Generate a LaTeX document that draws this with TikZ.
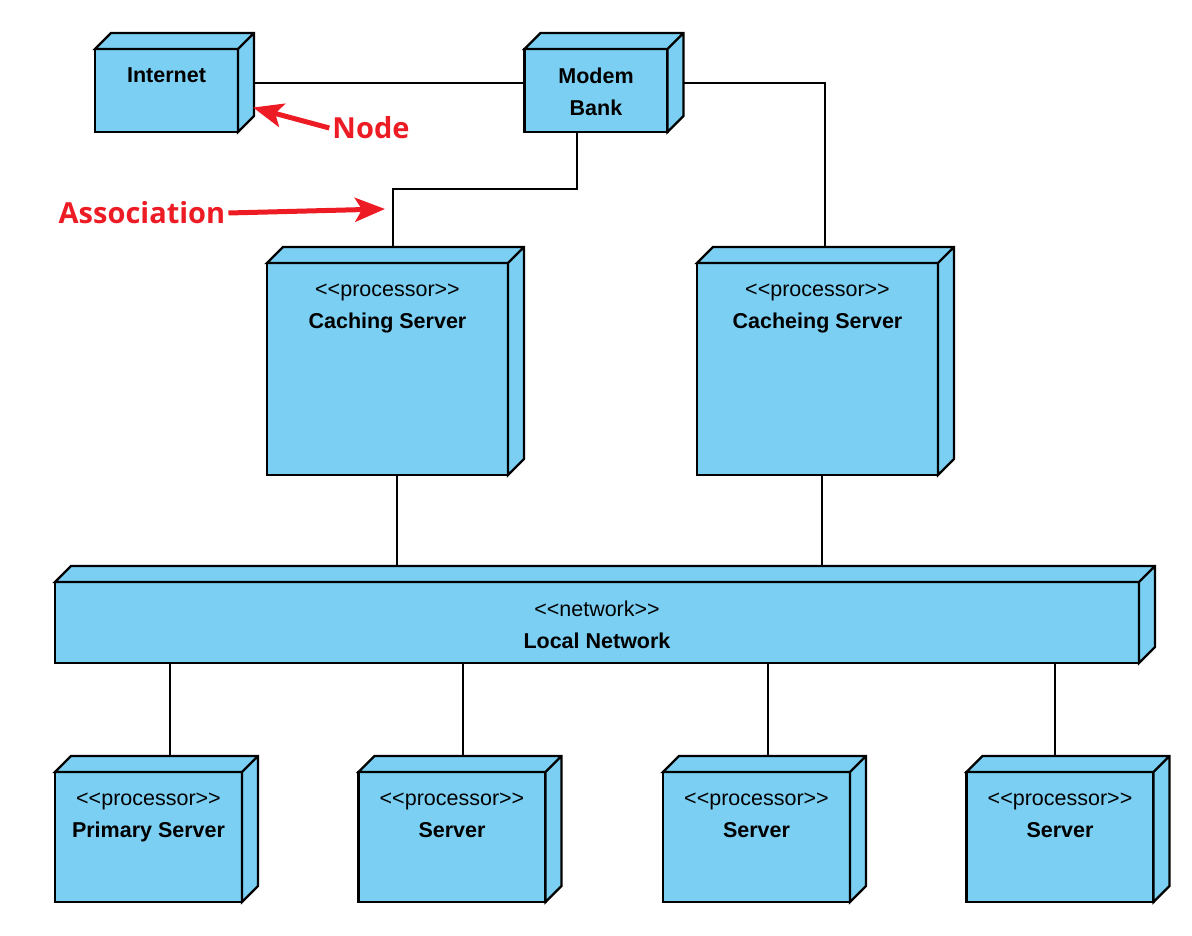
\documentclass[tikz,border=0pt]{standalone}
\usepackage{fontspec}
\setmainfont{Liberation Sans}
\newfontfamily\notefont{Open Sans}
\usetikzlibrary{arrows.meta,calc}
\definecolor{nodeblue}{RGB}{122,207,243}
\definecolor{notered}{RGB}{237,28,36}
\newcommand{\stype}[1]{\vphantom{\textbf{I}}<\kern0pt<#1>\kern0pt>}

\begin{document}
\begin{tikzpicture}[
  x=1pt, y=1pt,
  box/.style 2 args={draw, fill=nodeblue, line width=2.2pt, outer sep=0pt, inner sep=0pt, minimum width=#1, minimum height=#2},
  face/.style={draw, fill=nodeblue, line width=2.2pt, line join=miter},
  title/.style={anchor=north, align=center, inner sep=0pt, yshift=-19pt, font=\fontsize{21.5}{31.5}\selectfont},
  link/.style={draw, line width=2pt},
  note/.style={text=notered, font=\notefont\bfseries\fontsize{29}{34}\selectfont, inner sep=3pt},
  pointer/.style={-{Stealth[length=30pt,width=24pt,inset=7pt]}, draw=notered, line width=5pt},
]
\useasboundingbox (0,0) rectangle (1192,-936);

\node[box={143pt}{83pt}, label={[title]north:\textbf{Internet}}] (inet) at (166.5,-90.5) {};
\node[box={143pt}{83pt}, label={[title]north:{\textbf{Modem}\\\textbf{Bank}}}] (modem) at (596,-90.5) {};
\node[box={241pt}{212pt}, label={[title]north:{\stype{processor}\\\textbf{Caching Server}}}] (cache) at (387.5,-369) {};
\node[box={241pt}{212pt}, label={[title]north:{\stype{processor}\\\textbf{Cacheing Server}}}] (cache2) at (817.5,-369) {};
\node[box={1084pt}{81pt}, label={[title]north:{\stype{network}\\\textbf{Local Network}}}] (lan) at (597,-622.5) {};
\node[box={187pt}{130pt}, label={[title]north:{\stype{processor}\\\textbf{Primary Server}}}] (prim) at (148.5,-837) {};
\node[box={187pt}{130pt}, label={[title]north:{\stype{processor}\\\textbf{Server}}}] (srvA) at (452,-837) {};
\node[box={187pt}{130pt}, label={[title]north:{\stype{processor}\\\textbf{Server}}}] (srvB) at (756.5,-837) {};
\node[box={187pt}{130pt}, label={[title]north:{\stype{processor}\\\textbf{Server}}}] (srvC) at (1060,-837) {};

\foreach \n in {inet,modem,cache,cache2,lan,prim,srvA,srvB,srvC}
  \path[face] (\n.north west) -- ++(16,16) -- ([shift={(16,16)}]\n.north east)
    -- ([shift={(16,16)}]\n.south east) -- (\n.south east) -- (\n.north east) -- cycle
    (\n.north east) -- ++(16,16);

\draw[link] ([shift={(16,7.5)}]inet.east) -- ([yshift=7.5]modem.west);
\draw[link] ([shift={(16,7.5)}]modem.east) -| ([shift={(7.5,16)}]cache2.north);
\coordinate (cachetop) at ([shift={(5.5,16)}]cache.north);
\coordinate (bend) at ($([xshift=-19]modem.south)!0.5!(cachetop)$);
\draw[link] ([xshift=-19]modem.south) |- (bend) -| (cachetop);

\coordinate (lantop) at ([yshift=16]lan.north);
\foreach \n/\dx in {cache/9.5,cache2/4.5}
  \draw[link] ([xshift=\dx]\n.south) coordinate (from) -- (from |- lantop);
\foreach \n/\dx in {prim/21.5,srvA/11,srvB/11.5,srvC/-5}
  \draw[link] ([shift={(\dx,16)}]\n.north) coordinate (to) -- (to |- lan.south);

\node[note] (nodenote) at (371,-128) {Node};
\node[note] (assocnote) at (142,-213) {Association};
\draw[pointer] (nodenote.west) -- ([shift={(15,-17)}]inet.east);
\draw[pointer] (assocnote.east) -- ([shift={(-8,38)}]cachetop);
\end{tikzpicture}
\end{document}
